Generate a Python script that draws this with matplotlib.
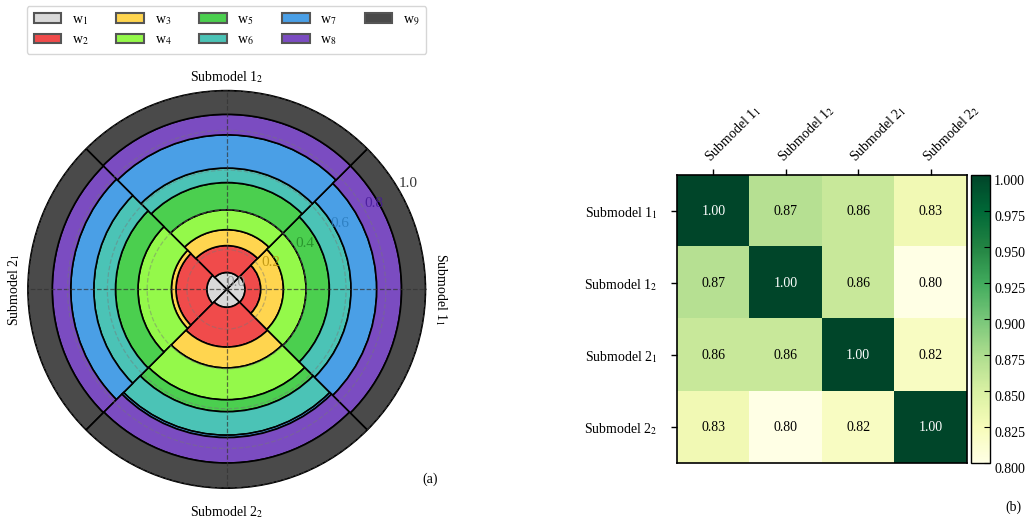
import numpy as np
import matplotlib
matplotlib.use("Agg")
import matplotlib.pyplot as plt
from matplotlib.patches import Patch

plt.rcParams["font.family"] = ["Liberation Serif", "DejaVu Serif"]
plt.rcParams["mathtext.fontset"] = "stix"
plt.rcParams["font.size"] = 10

# ---- data -------------------------------------------------------------
submodels = [r"Submodel 1$_1$", r"Submodel 1$_2$", r"Submodel 2$_1$", r"Submodel 2$_2$"]
weight_names = [r"w$_%d$" % i for i in range(1, 10)]

# weights w1..w9 per submodel (each row sums to 1)
w_sub11 = [0.092, 0.079, 0.114, 0.114, 0.117, 0.109, 0.129, 0.125, 0.121]
w_sub12 = [0.085, 0.135, 0.080, 0.100, 0.137, 0.073, 0.167, 0.103, 0.120]
w_sub21 = [0.100, 0.155, 0.023, 0.168, 0.113, 0.109, 0.116, 0.093, 0.123]
w_sub22 = [0.090, 0.200, 0.105, 0.160, 0.060, 0.118, 0.012, 0.128, 0.127]

# pairwise similarity between submodels
similarity = [
    [1.00, 0.87, 0.86, 0.83],
    [0.87, 1.00, 0.86, 0.80],
    [0.86, 0.86, 1.00, 0.82],
    [0.83, 0.80, 0.82, 1.00],
]
cbar_ticks = [0.800, 0.825, 0.850, 0.875, 0.900, 0.925, 0.950, 0.975, 1.000]
r_ticks = [0.0, 0.2, 0.4, 0.6, 0.8, 1.0]

# ---- styles -----------------------------------------------------------
weight_colors = ["#d9d9d9", "#f04b4b", "#ffd54f", "#94f94a", "#4bcf4f",
                 "#4bc3b6", "#4a9fe6", "#7b4cc1", "#4a4a4a"]
r_label_colors = ["#8c8c8c", "#b8900c", "#238a28", "#2a7bbd", "#45189a", "#111111"]

fig = plt.figure(figsize=(10.27, 5.2), dpi=100)

# ---- (a) polar stacked bars ------------------------------------------
ax = fig.add_axes([0.027, 0.061, 0.3875, 0.765], projection="polar")
theta = np.array([0.0, np.pi / 2, np.pi, 3 * np.pi / 2])
W = np.array([w_sub11, w_sub12, w_sub21, w_sub22])
bottom = np.zeros(len(theta))
for k in range(W.shape[1]):
    ax.bar(theta, W[:, k], width=np.pi / 2, bottom=bottom,
           color=weight_colors[k], edgecolor="black", linewidth=1.2, zorder=2)
    bottom += W[:, k]

ax.set_ylim(0, 1.0)
ax.set_yticks(r_ticks)
ax.set_yticklabels(["%.1f" % v for v in r_ticks])
for lab, c in zip(ax.get_yticklabels(), r_label_colors):
    lab.set_color(c)
    lab.set_alpha(0.85)
    lab.set_fontsize(11)
ax.set_rlabel_position(30)
ax.set_xticks(theta)
ax.set_xticklabels([])
ax.set_axisbelow(False)
ax.yaxis.grid(True, linestyle="--", color="#777777", alpha=0.45, linewidth=0.9)
ax.xaxis.grid(True, linestyle="--", color="#333333", alpha=0.7, linewidth=0.9)
ax.spines["polar"].set_linewidth(1.0)
ax.tick_params(axis="x", length=0)

label_r = [1.075, 1.065, 1.068, 1.12]
label_rot = [-90, 0, 90, 0]
for t, name, rr, rot in zip(theta, submodels, label_r, label_rot):
    ax.text(t, rr, name, rotation=rot, ha="center", va="center",
            fontsize=10, clip_on=False)

fig.text(430 / 1027, 1 - 479 / 520, "(a)", ha="center", va="center", fontsize=10)

handles = [Patch(facecolor=c, edgecolor="#555555", linewidth=1.5) for c in weight_colors]
fig.legend(handles, weight_names, ncol=5, loc="upper left",
           bbox_to_anchor=(0.026, 0.988), borderaxespad=0.0,
           frameon=True, fancybox=True,
           edgecolor="#cccccc", handlelength=2.0, handleheight=0.7,
           handletextpad=0.75, columnspacing=2.0, labelspacing=0.45,
           fontsize=10, borderpad=0.5)

# ---- (b) similarity heatmap ------------------------------------------
ax2 = fig.add_axes([0.6595, 0.109, 0.2818, 0.5544])
cax = fig.add_axes([0.9452, 0.109, 0.0188, 0.5544])
S = np.array(similarity)
im = ax2.imshow(S, cmap="YlGn", vmin=0.8, vmax=1.0, aspect="auto")
n = len(submodels)
ax2.set_xticks(range(n))
ax2.set_yticks(range(n))
ax2.xaxis.tick_top()
ax2.set_xticklabels(submodels, rotation=45, ha="left", va="bottom",
                    rotation_mode="anchor", fontsize=10)
ax2.set_yticklabels(submodels, fontsize=10)
ax2.tick_params(axis="both", direction="out", length=4, width=1, pad=3)
ax2.tick_params(axis="y", pad=10)
for sp in ax2.spines.values():
    sp.set_linewidth(1.2)
for i in range(n):
    for j in range(n):
        v = S[i, j]
        ax2.text(j, i, "%.2f" % v, ha="center", va="center", fontsize=10,
                 color="white" if v > 0.95 else "black")

cb = fig.colorbar(im, cax=cax, ticks=cbar_ticks)
cb.ax.set_yticklabels(["%.3f" % v for v in cbar_ticks])
cb.ax.tick_params(labelsize=10, length=4, pad=3, direction="in")
for lab in cb.ax.get_yticklabels():
    lab.set_verticalalignment("top")
cb.outline.set_linewidth(1.0)

fig.text(1013 / 1027, 1 - 507 / 520, "(b)", ha="center", va="center", fontsize=10)

fig.savefig("out.png", dpi=100)
